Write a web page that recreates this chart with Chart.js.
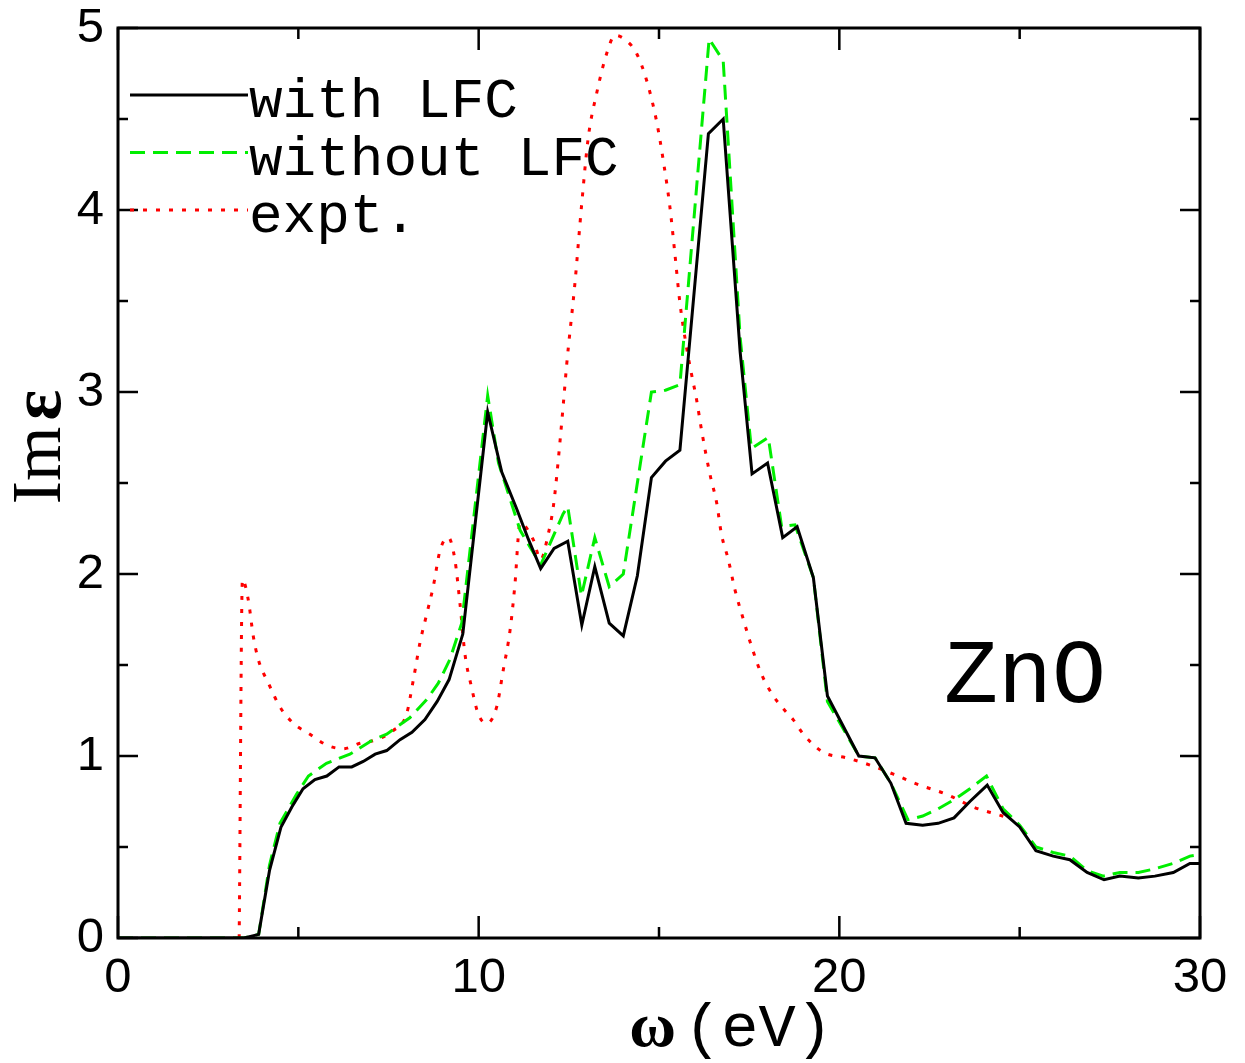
<!DOCTYPE html>
<html>
<head>
<meta charset="utf-8">
<script src="https://cdn.jsdelivr.net/npm/chart.js@4.4.1/dist/chart.umd.min.js"></script>
<style>
  html, body { margin: 0; padding: 0; background: #fff; }
</style>
</head>
<body>
<canvas id="chart" width="1245" height="1063"></canvas>
<script>
// Im eps of ZnO
const withX = [0, 3.5, 3.9, 4.2, 4.52, 4.82, 5.13, 5.46, 5.79, 6.13, 6.48, 6.8, 7.13, 7.45, 7.82, 8.15, 8.51, 8.85, 9.18, 9.56, 10.25, 10.64, 11.05, 11.38, 11.72, 12.09, 12.47, 12.86, 13.22, 13.62, 14.01, 14.4, 14.79, 15.18, 15.58, 16.37, 16.78, 17.25, 17.58, 18.01, 18.43, 18.83, 19.28, 19.67, 20.54, 20.99, 21.43, 21.85, 22.31, 22.74, 23.18, 23.62, 24.1, 24.54, 25.0, 25.45, 25.93, 26.39, 26.87, 27.34, 27.78, 28.29, 28.75, 29.26, 29.72, 30];
const withY = [0, 0, 0.02, 0.37, 0.61, 0.72, 0.82, 0.87, 0.89, 0.94, 0.94, 0.97, 1.01, 1.03, 1.09, 1.13, 1.2, 1.3, 1.42, 1.67, 2.89, 2.56, 2.36, 2.19, 2.03, 2.14, 2.18, 1.72, 2.04, 1.73, 1.66, 1.99, 2.53, 2.62, 2.68, 4.42, 4.5, 3.22, 2.55, 2.61, 2.2, 2.26, 1.98, 1.33, 1.0, 0.99, 0.85, 0.63, 0.62, 0.63, 0.66, 0.75, 0.84, 0.69, 0.61, 0.48, 0.45, 0.43, 0.36, 0.32, 0.34, 0.33, 0.34, 0.36, 0.41, 0.41];

const withoutX = [0, 3.5, 3.9, 4.2, 4.49, 4.95, 5.28, 5.78, 6.43, 7.08, 7.45, 8.09, 8.56, 8.88, 9.2, 9.53, 10.25, 10.55, 11.15, 11.72, 12.34, 12.47, 12.85, 13.22, 13.62, 14.01, 14.79, 15.18, 15.58, 16.39, 16.78, 17.25, 17.56, 18.03, 18.4, 18.77, 19.28, 19.67, 20.54, 20.99, 21.43, 21.9, 22.31, 22.74, 23.18, 23.62, 24.08, 24.54, 25.0, 25.45, 25.93, 26.39, 26.87, 27.32, 27.78, 28.29, 28.75, 29.26, 29.72, 30];
const withoutY = [0, 0, 0.02, 0.4, 0.63, 0.79, 0.89, 0.96, 1.01, 1.09, 1.12, 1.21, 1.31, 1.4, 1.53, 1.73, 2.98, 2.61, 2.24, 2.05, 2.33, 2.37, 1.88, 2.2, 1.93, 2.0, 3.0, 3.01, 3.04, 4.94, 4.82, 3.3, 2.69, 2.75, 2.26, 2.27, 1.98, 1.3, 1.0, 0.99, 0.85, 0.65, 0.67, 0.71, 0.76, 0.82, 0.89, 0.71, 0.62, 0.5, 0.47, 0.45, 0.37, 0.34, 0.36, 0.36, 0.38, 0.41, 0.45, 0.46];

const exptX = [3.36, 3.45, 3.61, 3.75, 3.89, 4.17, 4.49, 4.86, 5.32, 5.79, 6.24, 6.71, 7.17, 7.63, 8.0, 8.19, 8.37, 8.56, 8.74, 8.93, 9.16, 9.34, 9.48, 9.62, 9.8, 9.99, 10.22, 10.5, 10.68, 10.87, 11.0, 11.15, 11.51, 11.72, 11.93, 12.07, 12.16, 12.35, 12.44, 12.67, 12.86, 13.04, 13.27, 13.55, 13.78, 14.1, 14.38, 14.66, 14.93, 15.12, 15.3, 15.44, 15.58, 15.76, 15.9, 16.04, 16.18, 16.41, 16.6, 16.73, 16.92, 17.11, 17.34, 17.57, 17.84, 18.17, 18.49, 18.72, 19.0, 19.56, 20.2, 20.85, 21.5, 22.23, 22.97, 23.71, 24.36, 24.7];
const exptY = [0, 1.97, 1.86, 1.66, 1.53, 1.4, 1.27, 1.18, 1.12, 1.06, 1.04, 1.07, 1.09, 1.14, 1.23, 1.42, 1.62, 1.78, 1.93, 2.13, 2.2, 2.08, 1.84, 1.56, 1.38, 1.23, 1.18, 1.27, 1.47, 1.69, 1.93, 2.28, 2.19, 2.08, 2.22, 2.37, 2.53, 2.94, 3.15, 3.6, 4.04, 4.4, 4.64, 4.86, 4.96, 4.93, 4.86, 4.71, 4.49, 4.27, 4.02, 3.76, 3.49, 3.25, 3.1, 2.96, 2.79, 2.55, 2.39, 2.22, 2.08, 1.91, 1.75, 1.6, 1.45, 1.33, 1.25, 1.2, 1.12, 1.02, 0.99, 0.95, 0.9, 0.84, 0.79, 0.72, 0.68, 0.66];

const seriesNames = ['with LFC', 'without LFC', 'expt.'];
const xTicks = [0, 10, 20, 30];
const xMinorTicks = [5, 15, 25];
const yTicks = [0, 1, 2, 3, 4, 5];
const yMinorTicks = [0.5, 1.5, 2.5, 3.5, 4.5];

const toPoints = (xs, ys) => xs.map((x, i) => ({ x, y: ys[i] }));

const MONO = '"Liberation Mono", "DejaVu Sans Mono", monospace';
const SERIF = '"Liberation Serif", "DejaVu Serif", serif';
const SANS = '"Liberation Sans", Arial, sans-serif';

// draws a row of differently styled text pieces centred on (x, y)
function drawPieces(ctx, pieces, x, y, gap = 0) {
  let total = gap * (pieces.length - 1);
  pieces.forEach(p => { ctx.font = p.font; p.w = ctx.measureText(p.text).width; total += p.w; });
  let cx = x - total / 2;
  ctx.textAlign = 'left';
  pieces.forEach(p => { ctx.font = p.font; ctx.fillText(p.text, cx, y); cx += p.w + gap; });
}

const framePlugin = {
  id: 'frame',
  afterDraw(chart) {
    const { ctx, chartArea: a, scales } = chart;
    const xs = scales.x, ys = scales.y;
    ctx.save();
    ctx.strokeStyle = '#000';
    ctx.lineWidth = 3;
    ctx.strokeRect(a.left, a.top, a.right - a.left, a.bottom - a.top);

    ctx.lineWidth = 2.5;
    ctx.beginPath();
    const xt = (vals, len) => vals.forEach(v => {
      const px = xs.getPixelForValue(v);
      ctx.moveTo(px, a.bottom); ctx.lineTo(px, a.bottom - len);
      ctx.moveTo(px, a.top); ctx.lineTo(px, a.top + len);
    });
    const yt = (vals, len) => vals.forEach(v => {
      const py = ys.getPixelForValue(v);
      ctx.moveTo(a.left, py); ctx.lineTo(a.left + len, py);
      ctx.moveTo(a.right, py); ctx.lineTo(a.right - len, py);
    });
    xt(xTicks, 22); xt(xMinorTicks, 11);
    yt(yTicks, 20); yt(yMinorTicks, 10);
    ctx.stroke();

    // legend in the top-left corner
    ctx.fillStyle = '#000';
    ctx.textBaseline = 'alphabetic';
    chart.data.datasets.forEach((ds, i) => {
      const ly = 95 + i * 57.5;
      ctx.strokeStyle = ds.borderColor;
      ctx.lineWidth = ds.borderWidth;
      ctx.setLineDash(ds.borderDash || []);
      ctx.beginPath();
      ctx.moveTo(130, ly); ctx.lineTo(248, ly);
      ctx.stroke();
      ctx.setLineDash([]);
      ctx.font = '56px ' + MONO;
      ctx.textAlign = 'left';
      ctx.fillText(ds.label, 249, ly + 22);
    });

    ctx.font = '90px ' + MONO;
    ctx.fillText('ZnO', 944, 702);

    // axis titles
    drawPieces(ctx, [
      { text: 'ω', font: 'bold 64px ' + SERIF },
      { text: '(eV)', font: '62px ' + MONO }
    ], 731, 1046, 8);

    ctx.translate(60, 447);
    ctx.rotate(-Math.PI / 2);
    drawPieces(ctx, [
      { text: 'Im', font: '70px ' + SERIF },
      { text: 'ε', font: 'bold 72px ' + SERIF }
    ], 0, 0, 6);
    ctx.restore();
  }
};

const ctx = document.getElementById('chart').getContext('2d');
new Chart(ctx, {
  type: 'line',
  data: {
    datasets: [{
      label: seriesNames[0],
      data: toPoints(withX, withY),
      borderColor: '#000000',
      borderWidth: 3,
    }, {
      label: seriesNames[1],
      data: toPoints(withoutX, withoutY),
      borderColor: '#00ee00',
      borderWidth: 3,
      borderDash: [15, 8],
    }, {
      label: seriesNames[2],
      data: toPoints(exptX, exptY),
      borderColor: '#ff0000',
      borderWidth: 3,
      borderDash: [4, 9],
      cubicInterpolationMode: 'monotone',
    }],
  },
  options: {
    responsive: false,
    animation: false,
    devicePixelRatio: 1,
    elements: { point: { radius: 0 }, line: { tension: 0 } },
    layout: { padding: { top: 28, right: 45, left: 0, bottom: 0 } },
    plugins: { legend: { display: false }, tooltip: { enabled: false } },
    scales: {
      x: {
        type: 'linear',
        min: 0,
        max: 30,
        grid: { display: false },
        border: { display: false },
        ticks: {
          stepSize: 10,
          padding: 8,
          color: '#000',
          maxRotation: 0,
          font: { family: SANS, size: 49, lineHeight: 1 },
        },
        afterFit(scale) {
          scale.height = 125;
          scale.paddingLeft = 0;
          scale.paddingRight = 0;
        },
      },
      y: {
        min: 0,
        max: 5,
        grid: { display: false },
        border: { display: false },
        ticks: {
          stepSize: 1,
          padding: 6,
          color: '#000',
          font: { family: SANS, size: 49, lineHeight: 1 },
        },
        afterFit(scale) {
          scale.width = 118;
          scale.paddingTop = 0;
          scale.paddingBottom = 0;
        },
      },
    },
  },
  plugins: [framePlugin],
});
</script>
</body>
</html>
